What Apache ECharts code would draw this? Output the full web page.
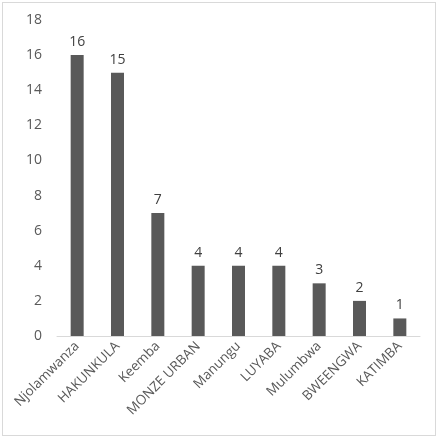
<!DOCTYPE html>
<html>
<head>
<meta charset="utf-8">
<script src="https://cdn.jsdelivr.net/npm/echarts@6/dist/echarts.min.js"></script>
<style>
  html, body { margin: 0; padding: 0; background: #fff; }
  #wrap { position: absolute; left: 2px; top: 2px; width: 434px; height: 434px; border: 1px solid #d9d9d9; box-sizing: border-box; }
  #chart { width: 440px; height: 440px; position: absolute; left: 0; top: 0; }
</style>
</head>
<body>
<div id="wrap"></div>
<div id="chart"></div>
<script>
var categories = ['Njolamwanza', 'HAKUNKULA', 'Keemba', 'MONZE URBAN', 'Manungu', 'LUYABA', 'Mulumbwa', 'BWEENGWA', 'KATIMBA'];
var values = [16, 15, 7, 4, 4, 4, 3, 2, 1];

var chart = echarts.init(document.getElementById('chart'));
var option = {
  animation: false,
  grid: { left: 57, right: 20, top: 20, bottom: 104 },
  xAxis: {
    type: 'category',
    data: categories,
    axisLine: { lineStyle: { color: '#d9d9d9' } },
    axisTick: { show: false },
    axisLabel: {
      rotate: 45,
      interval: 0,
      color: '#595959',
      fontSize: 13.5,
      fontFamily: 'Open Sans',
      margin: 8
    }
  },
  yAxis: {
    type: 'value',
    min: 0,
    max: 18,
    interval: 2,
    axisLine: { show: false },
    axisTick: { show: false },
    splitLine: { show: false },
    axisLabel: { color: '#595959', fontSize: 14, fontFamily: 'Open Sans', margin: 15 }
  },
  series: [{
    type: 'bar',
    data: values,
    barWidth: 13,
    itemStyle: { color: '#595959' },
    label: {
      show: true,
      position: 'top',
      color: '#404040',
      fontSize: 14,
      fontFamily: 'Open Sans',
      distance: 6
    }
  }]
};
chart.setOption(option);
</script>
</body>
</html>
